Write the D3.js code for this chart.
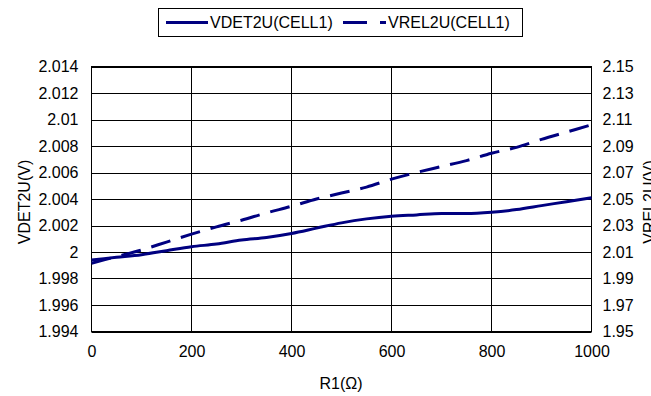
<!DOCTYPE html>
<html><head><meta charset="utf-8">
<script src="https://cdn.jsdelivr.net/npm/d3@7"></script>
<style>body{margin:0;background:#fff;overflow:hidden}text{font-family:"Liberation Sans",Arial,sans-serif;fill:#000}</style>
</head><body><svg id="c" width="651" height="396"></svg>
<script>
const r1 = [0,50,100,150,200,250,300,350,400,450,500,550,600,650,700,750,800,850,900,950,1000];
const vdet2u = [1.9994,1.9996,1.9998,2.0001,2.0004,2.0006,2.0009,2.0011,2.0014,2.0018,2.0022,2.0025,2.0027,2.0028,2.0029,2.0029,2.0030,2.0032,2.0035,2.0038,2.0041];
const vrel2u = [2.0015,2.0065,2.0115,2.0175,2.0235,2.029,2.034,2.0395,2.0445,2.050,2.0545,2.059,2.065,2.070,2.0745,2.079,2.0845,2.089,2.095,2.1005,2.106];
const xTicks = [0,200,400,600,800,1000];
const leftTicks = [1.994,1.996,1.998,2.000,2.002,2.004,2.006,2.008,2.010,2.012,2.014];
const leftLabels = ["1.994","1.996","1.998","2","2.002","2.004","2.006","2.008","2.01","2.012","2.014"];
const rightTicks = [1.95,1.97,1.99,2.01,2.03,2.05,2.07,2.09,2.11,2.13,2.15];
const rightLabels = ["1.95","1.97","1.99","2.01","2.03","2.05","2.07","2.09","2.11","2.13","2.15"];
const seriesNames = ["VDET2U(CELL1)","VREL2U(CELL1)"];

const svg = d3.select("#c");
const L=91.5, R=591.5, T=66.5, B=331.5;
const x = d3.scaleLinear().domain([0,1000]).range([L,R]);
const yl = d3.scaleLinear().domain([1.994,2.014]).range([B,T]);
const yr = d3.scaleLinear().domain([1.95,2.15]).range([B,T]);
const col = "#000080";
const fs = "16px";

// grid
const g = svg.append("g");
g.selectAll(".hg").data(leftTicks).join("line")
 .attr("x1",L).attr("x2",R).attr("y1",d=>Math.round(yl(d))+0.5).attr("y2",d=>Math.round(yl(d))+0.5)
 .attr("stroke","#000").attr("stroke-width",1);
g.selectAll(".vg").data(xTicks).join("line")
 .attr("x1",d=>x(d)).attr("x2",d=>x(d)).attr("y1",T).attr("y2",B)
 .attr("stroke","#000").attr("stroke-width",1);
g.append("rect").attr("x",L).attr("y",T).attr("width",R-L).attr("height",B-T)
 .attr("fill","none").attr("stroke","#000").attr("stroke-width",1);

// axes
const ax = svg.append("g").attr("transform",`translate(0,${B})`)
 .call(d3.axisBottom(x).tickValues(xTicks).tickSize(0).tickPadding(14).tickFormat(d3.format("d")));
const al = svg.append("g").attr("transform",`translate(${L},0)`)
 .call(d3.axisLeft(yl).tickValues(leftTicks).tickSize(0).tickPadding(13).tickFormat((d,i)=>leftLabels[i]));
const ar = svg.append("g").attr("transform",`translate(${R},0)`)
 .call(d3.axisRight(yr).tickValues(rightTicks).tickSize(0).tickPadding(11).tickFormat((d,i)=>rightLabels[i]));
[ax,al,ar].forEach(a=>{a.select(".domain").remove();a.selectAll("text").style("font-size",fs).style("font-family",'"Liberation Sans",Arial,sans-serif');a.selectAll("line").remove();});

// lines
const lineL = d3.line().x((d,i)=>x(r1[i])).y(d=>yl(d)).curve(d3.curveMonotoneX);
const lineR = d3.line().x((d,i)=>x(r1[i])).y(d=>yr(d)).curve(d3.curveMonotoneX);
svg.append("path").attr("d",lineL(vdet2u)).attr("fill","none").attr("stroke",col).attr("stroke-width",3);
svg.append("path").attr("d",lineR(vrel2u)).attr("fill","none").attr("stroke",col).attr("stroke-width",3).attr("stroke-dasharray","20,11");

// titles
svg.append("text").attr("x",341).attr("y",389).attr("text-anchor","middle").style("font-size",fs).text("R1(Ω)");
svg.append("text").attr("transform","translate(30,202) rotate(-90)").attr("text-anchor","middle").style("font-size",fs).text("VDET2U(V)");
svg.append("text").attr("transform","translate(655,202) rotate(-90)").attr("text-anchor","middle").style("font-size",fs).text("VREL2U(V)");

// legend
const lg = svg.append("g");
lg.append("rect").attr("x",158.5).attr("y",8.5).attr("width",364).attr("height",28).attr("fill","#fff").attr("stroke","#000");
lg.append("line").attr("x1",166).attr("x2",208).attr("y1",22.5).attr("y2",22.5).attr("stroke",col).attr("stroke-width",3);
lg.append("text").attr("x",210).attr("y",28).style("font-size",fs).text(seriesNames[0]);
lg.append("line").attr("x1",343).attr("x2",386).attr("y1",22.5).attr("y2",22.5).attr("stroke",col).attr("stroke-width",3).attr("stroke-dasharray","24,13");
lg.append("text").attr("x",388).attr("y",28).style("font-size",fs).text(seriesNames[1]);
</script></body></html>
